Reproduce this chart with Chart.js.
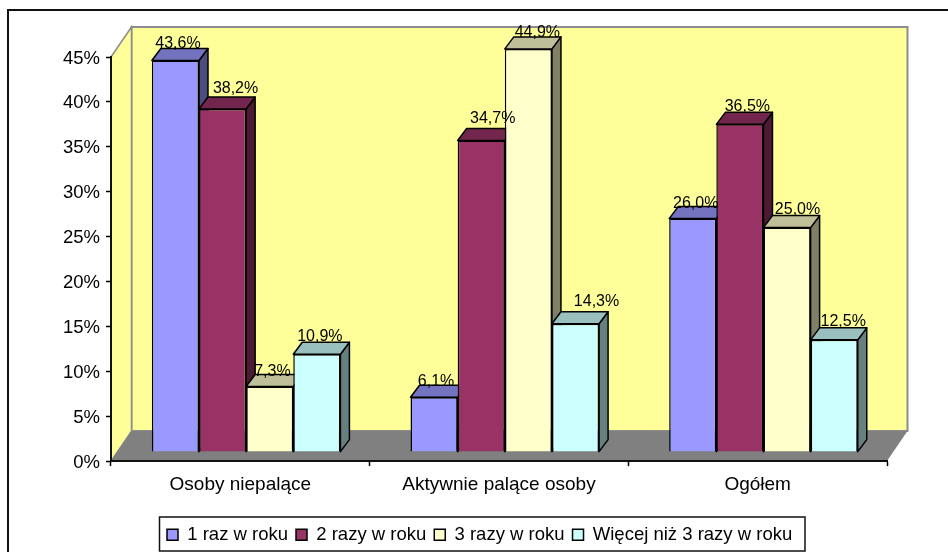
<!DOCTYPE html>
<html lang="pl">
<head>
<meta charset="utf-8">
<title>Wykres</title>
<style>
  html, body { margin: 0; background: #fff; }
  canvas { display: block; }
</style>
<script src="https://cdn.jsdelivr.net/npm/chart.js@4/dist/chart.umd.js"></script>
</head>
<body>
<canvas id="wykres" width="948" height="552"></canvas>
<script>
const kategorie = ['Osoby niepalące', 'Aktywnie palące osoby', 'Ogółem'];
const serie = ['1 raz w roku', '2 razy w roku', '3 razy w roku', 'Więcej niż 3 razy w roku'];
const raz1 = [43.6, 6.1, 26.0];
const razy2 = [38.2, 34.7, 36.5];
const razy3 = [7.3, 44.9, 25.0];
const wiecej = [10.9, 14.3, 12.5];
const osY = [0, 5, 10, 15, 20, 25, 30, 35, 40, 45];

const kolory = ['#9999ff', '#993366', '#ffffcc', '#ccffff'];
const gora = ['#7373bf', '#73264d', '#bfbf99', '#99bfbf'];
const bok = ['#4c4c80', '#4d1a33', '#808066', '#668080'];

// bars stand inside the floor, not on its front edge
const przesuniecie = { x: 5.8, y: -9 };
const glebokoscSlupka = { x: 9, y: -12 };
const glebokoscTla = { x: 20.5, y: -30 };

// hand placement of the value labels relative to the bar centre and top
const etykietyDx = [[2.5, 2, 3], [13, 11.5, 7.5], [2.7, 9, 10.5], [3, 21, 9]];
const etykietyDy = [[-17, -16, -15], [-20, -22, -18], [-15, -16, -18], [-18, -22, -18]];

const czcionka = 'Liberation Sans, Arial, sans-serif';

function wielokat(ctx, punkty, wypelnienie, linia, grubosc) {
  ctx.beginPath();
  punkty.forEach((p, i) => i ? ctx.lineTo(p[0], p[1]) : ctx.moveTo(p[0], p[1]));
  ctx.closePath();
  ctx.fillStyle = wypelnienie;
  ctx.fill();
  if (linia) {
    ctx.strokeStyle = linia;
    ctx.lineWidth = grubosc;
    ctx.stroke();
  }
}

// walls, floor and the outer frame
const tlo3d = {
  id: 'tlo3d',
  afterLayout(chart) {
    // legend sits right of the page centre, so move it after layout
    const legend = chart.legend;
    const start = (legend.left + legend.options.labels.padding + legend.right - legend.lineWidths[0]) / 2;
    const d = 167 - start;
    legend.left += d;
    legend.right += d;
    legend.top += 2;
    legend.bottom += 2;
  },
  beforeDraw(chart) {
    const { ctx, chartArea: a } = chart;
    const dx = glebokoscTla.x, dy = glebokoscTla.y;
    ctx.save();
    ctx.strokeStyle = '#111';
    ctx.lineWidth = 2;
    ctx.beginPath();
    ctx.moveTo(8, 552);
    ctx.lineTo(8, 10);
    ctx.lineTo(948, 10);
    ctx.stroke();
    wielokat(ctx, [[a.left + dx, a.top + dy], [a.right + dx, a.top + dy], [a.right + dx, a.bottom + dy], [a.left + dx, a.bottom + dy]], '#ffff99', '#8c8c8c', 2);
    wielokat(ctx, [[a.left, a.top], [a.left + dx, a.top + dy], [a.left + dx, a.bottom + dy], [a.left, a.bottom]], '#ffff99', '#8c8c8c', 1.5);
    wielokat(ctx, [[a.left, a.bottom], [a.left + dx, a.bottom + dy], [a.right + dx, a.bottom + dy], [a.right, a.bottom]], '#808080');
    ctx.restore();
  },
  beforeDatasetsDraw(chart) {
    const { ctx } = chart;
    const dx = glebokoscSlupka.x, dy = glebokoscSlupka.y;
    ctx.save();
    ctx.translate(przesuniecie.x, przesuniecie.y);
    // side and top faces, left to right so nearer ones overlap correctly
    kategorie.forEach((_, k) => {
      serie.forEach((_, s) => {
        const b = chart.getDatasetMeta(s).data[k];
        const l = b.x - b.width / 2, r = b.x + b.width / 2;
        ctx.lineJoin = 'round';
        wielokat(ctx, [[r, b.y], [r + dx, b.y + dy], [r + dx, b.base + dy], [r, b.base]], bok[s], '#000', 1.5);
        wielokat(ctx, [[l, b.y], [l + dx, b.y + dy], [r + dx, b.y + dy], [r, b.y]], gora[s], '#000', 1.5);
      });
    });
  },
  afterDatasetsDraw(chart) {
    const { ctx } = chart;
    ctx.font = '16px ' + czcionka;
    ctx.fillStyle = '#000';
    ctx.textAlign = 'center';
    ctx.textBaseline = 'middle';
    serie.forEach((_, s) => {
      chart.getDatasetMeta(s).data.forEach((b, k) => {
        const tekst = chart.data.datasets[s].data[k].toFixed(1).replace('.', ',') + '%';
        ctx.fillText(tekst, b.x + etykietyDx[s][k], b.y + etykietyDy[s][k]);
      });
    });
    ctx.restore();
  },
  afterDraw(chart) {
    // frame around the legend
    const { ctx } = chart;
    ctx.save();
    ctx.strokeStyle = '#111';
    ctx.lineWidth = 1.5;
    ctx.strokeRect(159.5, 517, 645.5, 34);
    ctx.restore();
  }
};

new Chart(document.getElementById('wykres'), {
  type: 'bar',
  data: {
    labels: kategorie,
    datasets: [raz1, razy2, razy3, wiecej].map((wartosci, i) => ({
      label: serie[i],
      data: wartosci,
      backgroundColor: kolory[i],
      borderColor: '#000',
      borderWidth: 1.5,
      clip: false
    }))
  },
  options: {
    responsive: false,
    animation: false,
    layout: { padding: { left: 8, right: 61, top: 57, bottom: 0 } },
    datasets: { bar: { categoryPercentage: 0.729, barPercentage: 1 } },
    scales: {
      x: {
        afterFit(scale) { scale.height = 54.4; },
        grid: { offset: true, drawOnChartArea: false, color: '#000', tickLength: 5, tickWidth: 1.5 },
        border: { color: '#111', width: 2 },
        ticks: { color: '#000', padding: 7.5, maxRotation: 0, font: { family: czcionka, size: 19 } }
      },
      y: {
        min: 0,
        max: 45,
        afterFit(scale) { scale.width = 103; },
        afterBuildTicks(scale) { scale.ticks = osY.map(value => ({ value })); },
        grid: { drawOnChartArea: false, color: '#000', tickLength: 5, tickWidth: 1.5 },
        border: { color: '#111', width: 2 },
        ticks: { color: '#000', padding: 6, labelOffset: 1.5, callback: v => v + '%', font: { family: czcionka, size: 18.5 } }
      }
    },
    plugins: {
      tooltip: { enabled: false },
      legend: {
        position: 'bottom',
        labels: { boxWidth: 11, boxHeight: 11, padding: 8, color: '#000', font: { family: czcionka, size: 18.5 } }
      }
    }
  },
  plugins: [tlo3d]
});
</script>
</body>
</html>
